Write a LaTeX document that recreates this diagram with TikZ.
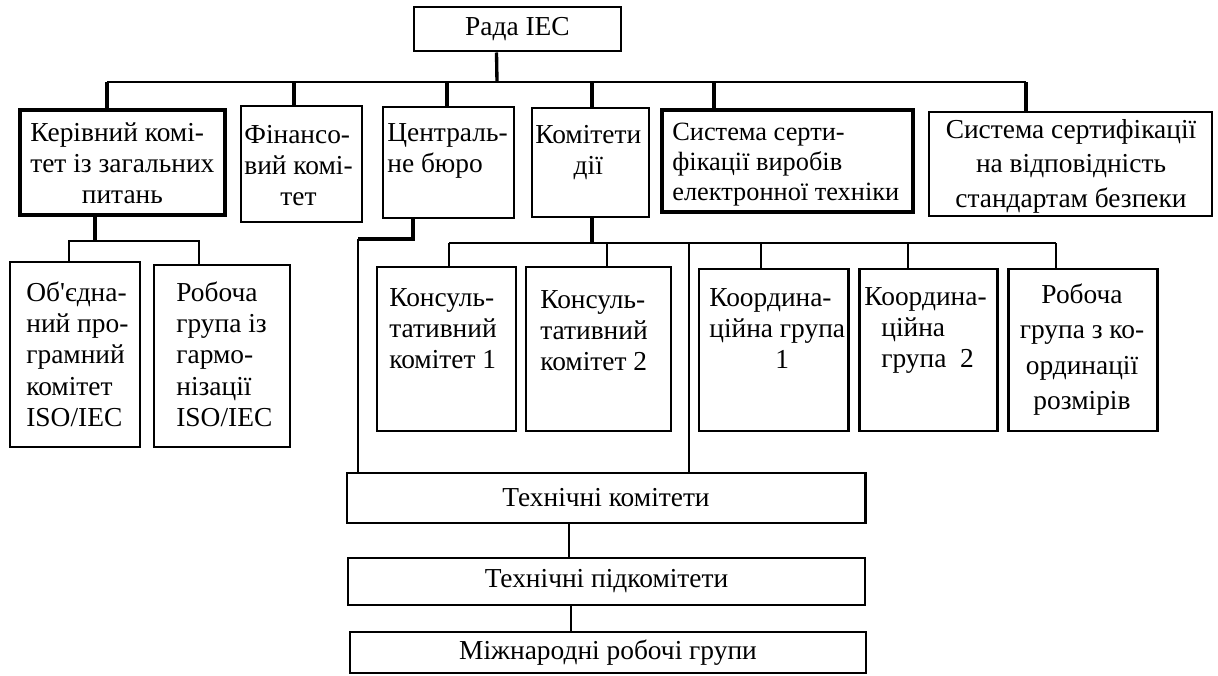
\documentclass[tikz,border=0pt]{standalone}
\usepackage{fontspec}
\setmainfont{Liberation Serif}
\newfontfamily\apf{Liberation Serif}
\usetikzlibrary{fit,calc}

\begin{document}
\begin{tikzpicture}[x=0.02cm,y=-0.02cm]
\tikzset{bx/.style={draw,line width=1.4pt,inner sep=0pt},
bxm/.style={bx,line width=1.7pt},
bxb/.style={bx,line width=2.4pt},
lbl/.style={inner sep=0pt,anchor=base west,font=\fontsize{15.6}{17.9}\selectfont},
mid/.style={lbl,anchor=center},
bus/.style={line width=1.1pt},
drop/.style={line width=1.9pt},
med/.style={line width=1.1pt},
thin/.style={line width=0.85pt},
}
\useasboundingbox (0,0) rectangle (1218,676);

% top level
\node[bxm,fit={(414,7) (621,51)}] (rada) {};
\node[mid] (rada-t) at (rada.center) {Рада IEC};

\node[bxb,fit={(20,110) (225,215)}] (kerk) {};
\node[lbl] (kerk-t) at (30,141) {\begin{tabular}[t]{@{}l@{}}Керівний комі-\\тет із загальних\\\multicolumn{1}{@{}c@{}}{питань}\end{tabular}};
\node[bx,fit={(241,106) (362,222)}] (fin) {};
\node[lbl] (fin-t) at (244,143) {\begin{tabular}[t]{@{}l@{}}Фінансо-\\вий комі-\\\multicolumn{1}{@{}c@{}}{тет}\end{tabular}};
\node[bx,fit={(383,107) (514,218)}] (centr) {};
\node[lbl] (centr-t) at (387,141) {\begin{tabular}[t]{@{}l@{}}Централь-\\не бюро\end{tabular}};
\node[bx,fit={(532,108) (649,217)}] (kom) {};
\node[lbl] (kom-t) at (535,143) {\begin{tabular}[t]{@{}l@{}}Комітети\\\multicolumn{1}{@{}c@{}}{дії}\end{tabular}};
\node[bxb,fit={(662,110) (913,212)}] (sys1) {};
\node[lbl,font=\fontsize{15}{17.2}\selectfont] (sys1-t) at (672,140) {\begin{tabular}[t]{@{}l@{}}Система серти-\\фікації виробів\\електронної техніки\end{tabular}};
\node[bx,fit={(929,112) (1212,216)}] (sys2) {};
\node[lbl,anchor=base] (sys2-t) at (1071,138) {\renewcommand\arraystretch{1.1}\begin{tabular}[t]{@{}c@{}}Система сертифікації\\на відповідність\\стандартам безпеки\end{tabular}};

% second level
\node[bxm,fit={(10,262) (140,447)}] (obj) {};
\node[lbl] (obj-t) at (26,301) {\begin{tabular}[t]{@{}l@{}}Об{\apf'}єдна-\\ний про-\\грамний\\комітет\\ISO/IEC\end{tabular}};
\node[bxm,fit={(154,265) (290,447)}] (rob) {};
\node[lbl] (rob-t) at (176,301) {\begin{tabular}[t]{@{}l@{}}Робоча\\група із\\гармо-\\нізації\\ISO/IEC\end{tabular}};
\node[bxm,fit={(377,267) (516,431)}] (kons1) {};
\node[lbl] (kons1-t) at (389,306) {\begin{tabular}[t]{@{}l@{}}Консуль-\\тативний\\комітет 1\end{tabular}};
\node[bxm,fit={(526,267) (671,431)}] (kons2) {};
\node[lbl] (kons2-t) at (540,308) {\begin{tabular}[t]{@{}l@{}}Консуль-\\тативний\\комітет 2\end{tabular}};
\node[bxm,fit={(699,269) (848,431)}] (koord1) {};
\node[lbl] (koord1-t) at (709,306) {\begin{tabular}[t]{@{}l@{}}Координа-\\ційна група\\\multicolumn{1}{@{}c@{}}{\hspace{0.2cm}1}\end{tabular}};
\node[bxm,fit={(859,269) (997,431)}] (koord2) {};
\node[lbl] (koord2-t) at (864,305) {\begin{tabular}[t]{@{}l@{}}Координа-\\\hspace{0.34cm}ційна\\\hspace{0.34cm}група~~2\end{tabular}};
\node[bxm,fit={(1008,269) (1157,431)}] (robk) {};
\node[lbl,anchor=base] (robk-t) at (1082,303) {\renewcommand\arraystretch{1.13}\begin{tabular}[t]{@{}c@{}}Робоча\\група з ко-\\ординації\\розмірів\end{tabular}};

% technical
\node[bxm,fit={(347,473) (865,523)}] (tk) {};
\node[mid] (tk-t) at (tk.center) {Технічні комітети};
\node[bx,fit={(348,558) (865,605)}] (tpk) {};
\node[mid] (tpk-t) at (tpk.center) {Технічні підкомітети};
\node[bx,fit={(350,632) (866,673)}] (mrg) {};
\node[mid] (mrg-t) at (mrg.center) {Міжнародні робочі групи};

% connectors
\coordinate (busL) at (107,82);
\coordinate (busR) at (1026,82);
\draw[drop] ($(rada.south)+(-21,0)$) -- (busL -| 497,0);
\draw[bus] (busL) -- (busR);
\foreach \nm/\xx in {kerk/107,fin/294,centr/447,kom/592,sys1/714,sys2/1026}
  \draw[drop] (\nm.north -| \xx,0) -- (busL -| \xx,0);

\coordinate (kb) at (95,241);
\draw[drop] (kerk.south -| kb) -- (kb);
\draw[thin] (obj.north -| 69,0) |- (kb) -| (rob.north -| 199,0);

\coordinate (cb) at (358,239);
\draw[drop] (centr.south -| 413,0) |- (cb);
\draw[med] (cb) -- (tk.north -| cb);

\coordinate (kb2) at (592,243);
\draw[drop] (kom.south -| kb2) -- (kb2);
\draw[thin] (kb2 -| 449,0) -- (kb2 -| 1056,0);
\foreach \nm/\xx in {kons1/449,kons2/607,koord1/761,koord2/908,robk/1056}
  \draw[thin] (\nm.north -| \xx,0) -- (kb2 -| \xx,0);
\draw[med] (kb2 -| 689,0) -- (tk.north -| 689,0);

\draw[med] (tk.south -| 569,0) -- (tpk.north -| 569,0);
\draw[med] (tpk.south -| 571,0) -- (mrg.north -| 571,0);

\end{tikzpicture}
\end{document}
